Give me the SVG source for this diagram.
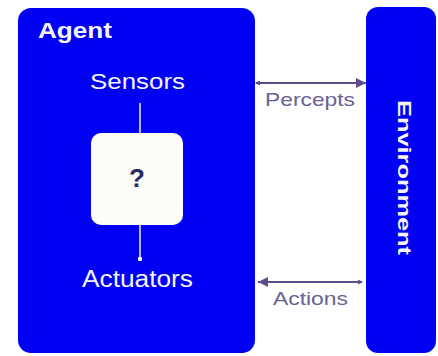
<svg xmlns="http://www.w3.org/2000/svg" width="438" height="356" viewBox="0 0 438 356">
<style>
.box{fill:#0000F2;}
.wt{fill:#F4F4FA;font-family:"Liberation Sans",Arial,sans-serif;}
.lbl{fill:#6A6294;font-family:"Liberation Sans",Arial,sans-serif;font-size:19px;}
.conn{stroke:#5E4C8A;stroke-width:2;fill:none;}
.inner{stroke:#F4F4FA;stroke-width:1.5;fill:none;}
</style>
<defs>
<marker id="ah" viewBox="0 0 10 10" refX="10" refY="5" markerWidth="6" markerHeight="5" orient="auto-start-reverse" markerUnits="strokeWidth">
<path d="M0,0 L10,5 L0,10 z" fill="#5E4C8A"/>
</marker>
<marker id="tip" viewBox="0 0 10 10" refX="8" refY="5" markerWidth="2.5" markerHeight="2.5" orient="auto-start-reverse" markerUnits="strokeWidth">
<path d="M0,0 L10,5 L0,10 z" fill="#5E4C8A"/>
</marker>
<marker id="dot" viewBox="0 0 10 10" refX="5" refY="5" markerWidth="3" markerHeight="3" markerUnits="strokeWidth">
<circle cx="5" cy="5" r="5" fill="#F4F4FA"/>
</marker>
</defs>
<rect width="438" height="356" fill="#FFFFFF"/>
<g id="agent">
<rect class="box" x="18" y="8" width="237" height="345" rx="13" ry="13"/>
<text class="wt" x="38" y="38" font-size="22" font-weight="bold" textLength="74" lengthAdjust="spacingAndGlyphs">Agent</text>
</g>
<g id="sensors">
<text class="wt" x="90" y="89" font-size="22" textLength="95" lengthAdjust="spacingAndGlyphs">Sensors</text>
</g>
<g id="process">
<rect x="91" y="133" width="92" height="92" rx="10" ry="10" fill="#FDFDF8"/>
<text x="137" y="187" font-family="'Liberation Sans',Arial,sans-serif" font-size="26" font-weight="bold" fill="#2A2A66" text-anchor="middle">?</text>
</g>
<g id="actuators">
<text class="wt" x="82" y="287" font-size="23" textLength="111" lengthAdjust="spacingAndGlyphs">Actuators</text>
</g>
<g id="environment">
<rect class="box" x="366" y="7" width="70" height="346" rx="12" ry="12"/>
<text class="wt" transform="translate(398,100) rotate(90)" x="0" y="0" font-size="19" font-weight="bold" textLength="155" lengthAdjust="spacingAndGlyphs">Environment</text>
</g>
<g id="connectors">
<line class="inner" x1="140" y1="103" x2="140" y2="133"/>
<line class="inner" x1="140" y1="225" x2="140" y2="259" marker-end="url(#dot)"/>
<line class="conn" x1="256" y1="83" x2="366" y2="83" marker-end="url(#ah)" marker-start="url(#tip)"/>
<line class="conn" x1="258" y1="282" x2="362" y2="282" marker-start="url(#ah)" marker-end="url(#tip)"/>
<text class="lbl" x="265" y="106" textLength="90" lengthAdjust="spacingAndGlyphs">Percepts</text>
<text class="lbl" x="273" y="305" textLength="75" lengthAdjust="spacingAndGlyphs">Actions</text>
</g>
</svg>
